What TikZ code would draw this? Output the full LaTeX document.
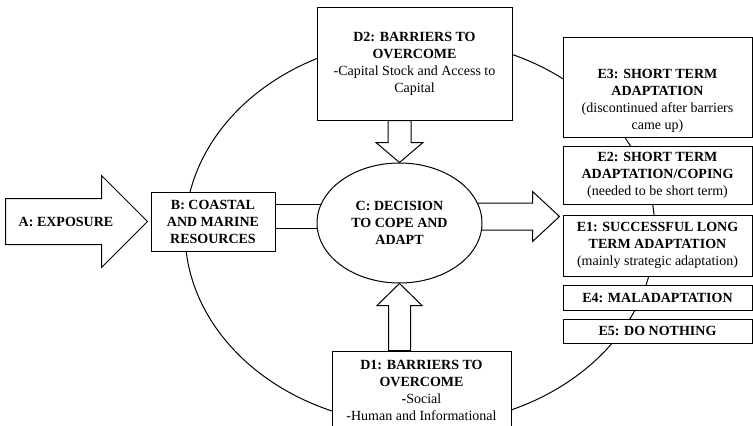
\documentclass[tikz,border=0pt]{standalone}
\usepackage{fontspec}
\setmainfont{Liberation Serif}
\usetikzlibrary{calc,backgrounds,shapes.geometric}

\tikzset{
  box/.style={draw, fill=white, align=center, inner sep=0pt},
  fatarrow/.style={draw, fill=white, line width=1pt, line join=miter}
}

\begin{document}
\begin{tikzpicture}[x=1pt, y=-1pt, line width=1pt, font=\fontsize{14}{17}\selectfont]
    \useasboundingbox (0,0) rectangle (753,426);
    \node[font=\fontsize{14}{17}\selectfont\bfseries] (a) at (66,222) {A: EXPOSURE};
    \node[box, minimum width=124, minimum height=59] (b) at (213,221.5) {\textbf{B: COASTAL}\\\textbf{AND MARINE}\\\textbf{RESOURCES}};
    \node[box, ellipse, minimum width=165, minimum height=120] (c) at (399.5,223) {\textbf{C: DECISION}\\\textbf{TO COPE AND}\\\textbf{ADAPT}};
    \node[box, minimum width=195, minimum height=113] (d2) at (414.5,63.5) {\textbf{D2: BARRIERS TO}\\\textbf{OVERCOME}\\-Capital Stock and Access to\\Capital};
    \node[box, minimum width=179, minimum height=78] (d1) at (421.5,390) {\textbf{D1: BARRIERS TO}\\\textbf{OVERCOME}\\\textbf{-}Social\\-Human and Informational};
    \node[box, minimum width=189, minimum height=100] (e3) at (657.5,87) {};
    \node[align=center] (e3txt) at (657.5,101) {\textbf{E3: SHORT TERM}\\\textbf{ADAPTATION}\\(discontinued after barriers\\came up)};
    \node[box, minimum width=189, minimum height=58] (e2) at (657.5,175) {\textbf{E2: SHORT TERM}\\\textbf{ADAPTATION/COPING}\\(needed to be short term)};
    \node[box, minimum width=189, minimum height=61] (e1) at (657.5,245.5) {\textbf{E1: SUCCESSFUL LONG}\\\textbf{TERM ADAPTATION}\\(mainly strategic adaptation)};
    \node[box, minimum width=189, minimum height=25] (e4) at (657.5,297.5) {\textbf{E4: MALADAPTATION}};
    \node[box, minimum width=189, minimum height=24] (e5) at (657.5,331) {\textbf{E5: DO NOTHING}};

    \begin{scope}[on background layer]
      \draw[line width=1pt] (420,232) ellipse [x radius=235, y radius=193];
      % block arrows
      \coordinate (atip) at ($(b.west)+(-3,0)$);
      \draw[fatarrow] (atip) -- ++(-46,-46) -- ++(0,23) -- ++(-96,0) -- ++(0,46) -- ++(96,0) -- ++(0,23) -- cycle;
      \draw[fatarrow] ($(b.east)+(0,-17.5)$) rectangle ($(c.center)+(0,5)$);
      \coordinate (etip) at ($(e1.west |- c.center)+(-3,-6.5)$);
      \draw[fatarrow] ($(c.center)+(0,-20)$) -- ($(etip)+(-27,-13.5)$) -- ($(etip)+(-27,-25)$) -- (etip)
        -- ($(etip)+(-27,25)$) -- ($(etip)+(-27,13.5)$) -- ($(c.center)+(0,7)$) -- cycle;
      \draw[fatarrow] ($(c.north |- d2.south)+(-11.5,0)$) -- ($(c.north)+(-11.5,-20)$) -- ($(c.north)+(-23.5,-20)$) -- (c.north)
        -- ($(c.north)+(23.5,-20)$) -- ($(c.north)+(11.5,-20)$) -- ($(c.north |- d2.south)+(11.5,0)$) -- cycle;
      \draw[fatarrow] ($(c.south |- d1.north)+(-11,0)$) -- ($(c.south)+(-11,22)$) -- ($(c.south)+(-22.5,22)$) -- (c.south)
        -- ($(c.south)+(22.5,22)$) -- ($(c.south)+(11,22)$) -- ($(c.south |- d1.north)+(11,0)$) -- cycle;
    \end{scope}
  \end{tikzpicture}
\end{document}
